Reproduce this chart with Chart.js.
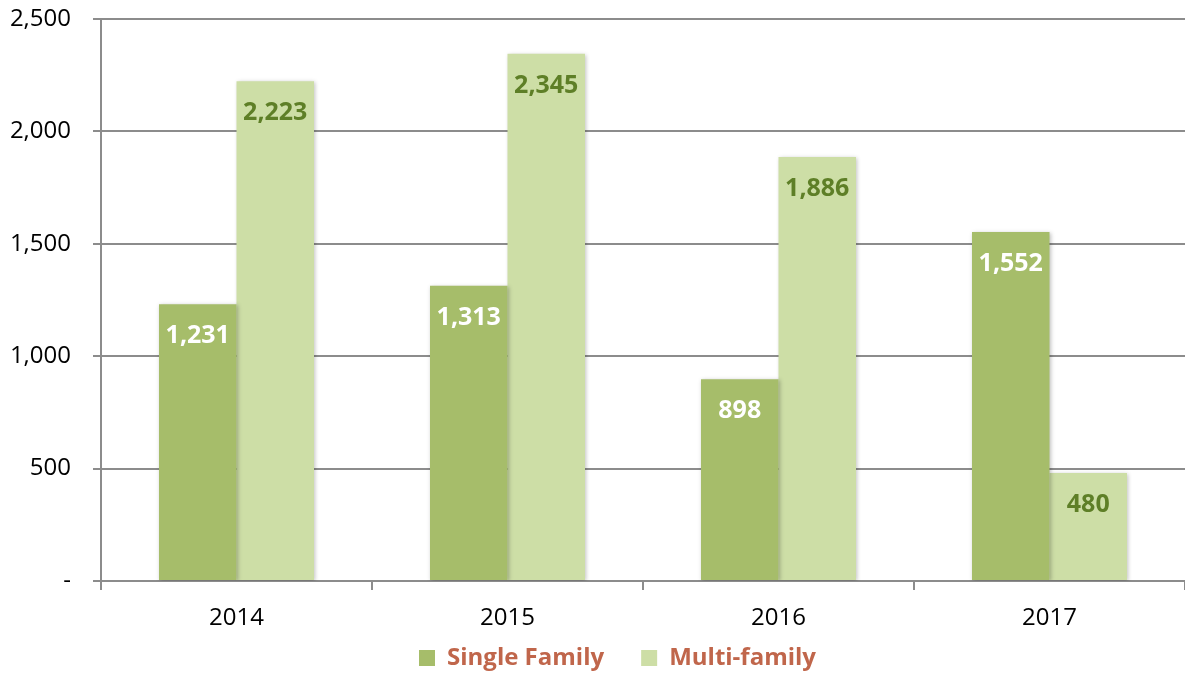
<!DOCTYPE html>
<html>
<head>
<meta charset="utf-8">
<script src="https://cdn.jsdelivr.net/npm/chart.js@4"></script>
<style>
  html, body { margin: 0; padding: 0; background: #fff; }
  #wrap { width: 1185px; height: 673px; }
</style>
</head>
<body>
<div id="wrap"><canvas id="myChart" width="1185" height="673"></canvas></div>
<script>
const years = ['2014', '2015', '2016', '2017'];
const singleFamily = [1231, 1313, 898, 1552];
const multiFamily = [2223, 2345, 1886, 480];
const yTicks = [0, 500, 1000, 1500, 2000, 2500];

const fontFamily = '"Open Sans", "DejaVu Sans", sans-serif';

const fmt = (v) => v.toLocaleString('en-US');

// bar shadows + value labels inside the bars
const barExtras = {
  id: 'barExtras',
  beforeDatasetsDraw(chart) {
    const ctx = chart.ctx;
    ctx.save();
    ctx.shadowColor = 'rgba(0,0,0,0.25)';
    ctx.shadowBlur = 4;
    ctx.shadowOffsetX = 1;
    ctx.shadowOffsetY = 1;
  },
  afterDatasetsDraw(chart) {
    const ctx = chart.ctx;
    ctx.restore();
    ctx.save();
    ctx.font = 'bold 25px ' + fontFamily;
    ctx.textAlign = 'center';
    ctx.textBaseline = 'middle';
    chart.data.datasets.forEach((ds, i) => {
      const meta = chart.getDatasetMeta(i);
      ctx.fillStyle = ds.labelColor;
      meta.data.forEach((bar, j) => {
        ctx.fillText(fmt(ds.data[j]), bar.x, bar.y + 32);
      });
    });
    ctx.restore();
  }
};

// legend needs wide gaps between items but a compact height,
// so shrink its box and nudge it into place after layout
const legendFix = {
  id: 'legendFix',
  beforeInit(chart) {
    const origFit = chart.legend.fit;
    chart.legend.fit = function () {
      origFit.call(this);
      this.height = 36;
    };
  },
  afterLayout(chart) {
    chart.legend.top = 609;
    chart.legend.left += 25;
    chart.legend.right += 25;
  }
};

const ctx = document.getElementById('myChart').getContext('2d');
new Chart(ctx, {
  type: 'bar',
  data: {
    labels: years,
    datasets: [
      {
        label: 'Single Family',
        data: singleFamily,
        backgroundColor: '#a6bd6a',
        labelColor: '#ffffff',
        categoryPercentage: 0.572,
        barPercentage: 1.0
      },
      {
        label: 'Multi-family',
        data: multiFamily,
        backgroundColor: '#cddea6',
        labelColor: '#5e7f27',
        categoryPercentage: 0.572,
        barPercentage: 1.0
      }
    ]
  },
  options: {
    responsive: false,
    animation: false,
    layout: { padding: { top: 19, right: 0, bottom: 0, left: 0 } },
    scales: {
      x: {
        afterFit(axis) {
          axis.height = 56;
        },
        grid: {
          offset: true,
          drawOnChartArea: false,
          drawTicks: true,
          tickLength: 9,
          color: '#8c8c8c',
          lineWidth: 2
        },
        border: { color: '#8c8c8c', width: 2 },
        ticks: {
          color: '#000',
          font: { family: fontFamily, size: 24 },
          padding: 14
        }
      },
      y: {
        min: 0,
        max: 2500,
        afterBuildTicks(axis) {
          axis.ticks = yTicks.map(v => ({ value: v }));
        },
        afterFit(axis) {
          axis.width = 101;
          axis.paddingTop = 0;
          axis.paddingBottom = 0;
        },
        grid: {
          color: '#8c8c8c',
          lineWidth: 2,
          tickLength: 8
        },
        border: { color: '#8c8c8c', width: 2 },
        ticks: {
          color: '#000',
          padding: 22,
          font: { family: fontFamily, size: 24 },
          callback: (v) => v === 0 ? '-' : fmt(v)
        }
      }
    },
    plugins: {
      legend: {
        display: true,
        position: 'bottom',
        labels: {
          color: '#c0664b',
          font: { family: fontFamily, size: 24, weight: 'bold' },
          boxWidth: 16,
          boxHeight: 16,
          padding: 37
        }
      },
      tooltip: { enabled: false }
    }
  },
  plugins: [barExtras, legendFix]
});
</script>
</body>
</html>
